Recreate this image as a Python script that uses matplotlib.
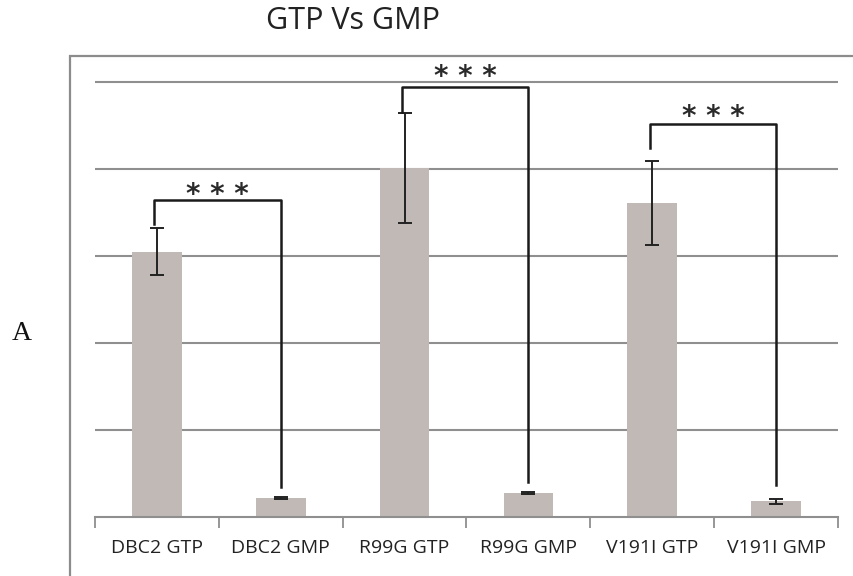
import numpy as np
import matplotlib
matplotlib.use("Agg")
import matplotlib.pyplot as plt
from matplotlib import font_manager
from matplotlib.patches import Rectangle

# values (units = gridline steps)
labels = ["DBC2 GTP", "DBC2 GMP", "R99G GTP", "R99G GMP", "V191I GTP", "V191I GMP"]
values = [3.05, 0.22, 4.01, 0.28, 3.61, 0.18]
errors = [0.27, 0.01, 0.63, 0.01, 0.48, 0.03]

# significance brackets between GTP and GMP of each variant
pairs = [(0, 1), (2, 3), (4, 5)]
bracket_y = [3.64, 4.94, 4.52]
left_foot = [3.37, 4.66, 4.24]
right_foot = [0.34, 0.40, 0.37]
star_y = [3.78, 5.14, 4.68]
stars = ["* * *", "* * *", "* * *"]

names = set(f.name for f in font_manager.fontManager.ttflist)
if "Liberation Sans Narrow" in names:
    label_font, label_size = "Liberation Sans Narrow", 16
else:
    label_font, label_size = "Open Sans", 14

fig = plt.figure(figsize=(8.54, 5.76), dpi=100)
fig.patch.set_facecolor("white")

# outer chart-area border (cut off at right/bottom)
border = Rectangle((70/854, -0.2), 1.0, 1 - 56/576 + 0.2, transform=fig.transFigure,
                   fill=False, edgecolor="#8c8c8c", lw=1.6)
fig.patches.append(border)

ax = fig.add_axes([95/854, 59/576, 743/854, 5.25*87/576])
x = np.arange(len(labels))
ax.bar(x, values, width=0.4, color="#c1b9b5", zorder=2)
ax.errorbar(x, values, yerr=errors, fmt="none", ecolor="#222222", elinewidth=1.4,
            capsize=5, capthick=1.4, zorder=3)

for i, (a, b) in enumerate(pairs):
    xa, xb = x[a] - 0.02, x[b]
    ax.plot([xa, xa, xb, xb], [left_foot[i], bracket_y[i], bracket_y[i], right_foot[i]],
            color="#1a1a1a", lw=1.8, zorder=4, clip_on=False)
    ax.annotate(stars[i], xy=((xa + xb) / 2, star_y[i]), xytext=(0, -11),
                textcoords="offset points", ha="center", va="baseline",
                fontsize=20, fontweight="bold", color="#2a2a2a",
                family="DejaVu Sans", annotation_clip=False)

ax.set_xlim(-0.5, 5.5)
ax.set_ylim(0, 5.25)
for g in range(1, 6):
    ax.axhline(g, color="#8f8f8f", lw=1.5, zorder=1)

for s in ["top", "right", "left"]:
    ax.spines[s].set_visible(False)
ax.spines["bottom"].set_color("#8f8f8f")
ax.spines["bottom"].set_linewidth(1.5)
ax.set_yticks([])
ax.set_xticks(np.arange(-0.5, 6, 1))
ax.set_xticklabels([])
ax.set_xticks(x, minor=True)
ax.set_xticklabels(labels, minor=True, fontsize=label_size, family=label_font)
ax.tick_params(axis="x", which="major", length=8, width=1.3, color="#8f8f8f")
ax.tick_params(axis="x", which="minor", length=0, pad=16, colors="#222222")

fig.text(353/854, 1 - 21/576, "GTP Vs GMP", ha="center", va="center",
         fontsize=22, family="Open Sans", color="#222222")
fig.text(22/854, 1 - 333/576, "A", ha="center", va="center",
         fontsize=20, family="Liberation Serif", color="#111111")

fig.savefig("out.png", dpi=100)
